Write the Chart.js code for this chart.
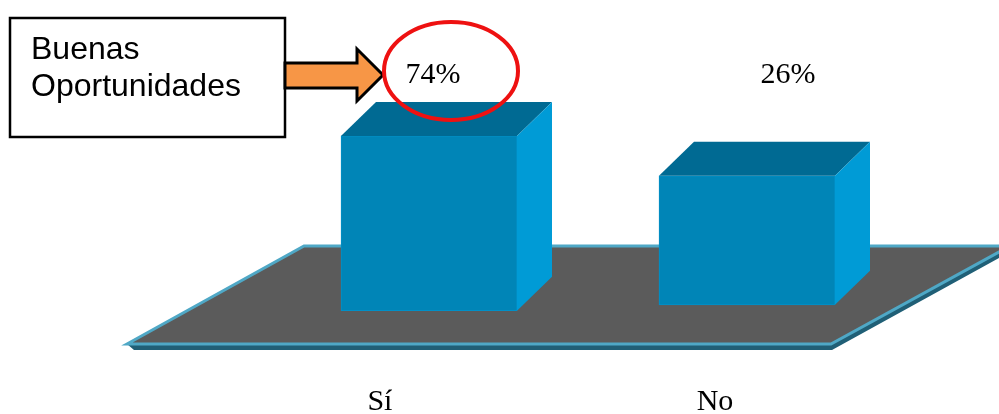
<!DOCTYPE html>
<html>
<head>
<meta charset="utf-8">
<style>
  html, body { margin: 0; padding: 0; background: #fff; }
  canvas { display: block; }
</style>
<script src="https://cdn.jsdelivr.net/npm/chart.js@4"></script>
</head>
<body>
<canvas id="chart" width="999" height="414"></canvas>
<script>
const categories = ['Sí', 'No'];
const percentValues = [74, 26];
// where each block stands on the platform, in axis units
const barFeet = [-136, -129];
const calloutLines = ['Buenas', 'Oportunidades'];

const SERIF = '"Liberation Serif", "Times New Roman", serif';
const SANS = '"Liberation Sans", Arial, sans-serif';

// platform under the blocks
const platform = {
  id: 'platform',
  beforeDatasetsDraw(chart) {
    const {ctx, chartArea: a} = chart;
    const front = a.bottom, back = a.bottom - 98;
    const fl = a.left - 143, fr = a.right - 75, bl = a.left + 34, br = a.right + 104;
    ctx.save();
    ctx.fillStyle = '#205f76';
    ctx.beginPath();
    ctx.moveTo(fl + 7, front + 6);
    ctx.lineTo(fr + 1, front + 6);
    ctx.lineTo(br, back + 6);
    ctx.lineTo(br, back);
    ctx.lineTo(fr, front);
    ctx.lineTo(fl, front);
    ctx.closePath();
    ctx.fill();
    ctx.beginPath();
    ctx.moveTo(fl, front);
    ctx.lineTo(bl, back);
    ctx.lineTo(br, back);
    ctx.lineTo(fr, front);
    ctx.closePath();
    ctx.fillStyle = '#5b5b5b';
    ctx.fill();
    ctx.strokeStyle = '#4fa8c6';
    ctx.lineWidth = 3;
    ctx.lineJoin = 'miter';
    ctx.stroke();
    ctx.restore();
  }
};

// top and side faces of each block, taken from the bar elements
const blockFaces = {
  id: 'blockFaces',
  afterDatasetsDraw(chart) {
    const {ctx} = chart;
    const dx = 35, dy = 34;
    ctx.save();
    chart.getDatasetMeta(0).data.forEach(bar => {
      const left = bar.x - bar.width / 2, right = bar.x + bar.width / 2;
      // floating bars can report y and base either way round
      const top = Math.min(bar.y, bar.base), foot = Math.max(bar.y, bar.base);
      ctx.fillStyle = '#006a93';
      ctx.beginPath();
      ctx.moveTo(left, top);
      ctx.lineTo(left + dx, top - dy);
      ctx.lineTo(right + dx, top - dy);
      ctx.lineTo(right, top);
      ctx.closePath();
      ctx.fill();
      ctx.fillStyle = '#009bd6';
      ctx.beginPath();
      ctx.moveTo(right, top);
      ctx.lineTo(right + dx, top - dy);
      ctx.lineTo(right + dx, foot - dy);
      ctx.lineTo(right, foot);
      ctx.closePath();
      ctx.fill();
    });
    ctx.restore();
  }
};

// percentages float in a row above the blocks
const valueRow = {
  id: 'valueRow',
  afterDatasetsDraw(chart) {
    const {ctx} = chart;
    const shift = [4, 41];
    ctx.save();
    ctx.font = '30px ' + SERIF;
    ctx.fillStyle = '#000';
    ctx.textAlign = 'center';
    ctx.textBaseline = 'alphabetic';
    chart.getDatasetMeta(0).data.forEach((bar, i) => {
      ctx.fillText(percentValues[i] + '%', bar.x + shift[i], 83);
    });
    ctx.restore();
  }
};

// text box, arrow and red ring pointing at the first percentage
const callout = {
  id: 'callout',
  afterDraw(chart) {
    const {ctx} = chart;
    ctx.save();
    ctx.fillStyle = '#fff';
    ctx.strokeStyle = '#000';
    ctx.lineWidth = 2.5;
    ctx.fillRect(10, 18, 275, 119);
    ctx.strokeRect(10, 18, 275, 119);
    ctx.fillStyle = '#000';
    ctx.font = '32px ' + SANS;
    calloutLines.forEach((t, i) => ctx.fillText(t, 31, 59 + i * 37));

    ctx.beginPath();
    ctx.moveTo(285, 63);
    ctx.lineTo(357, 63);
    ctx.lineTo(357, 49);
    ctx.lineTo(383, 75);
    ctx.lineTo(357, 101);
    ctx.lineTo(357, 88);
    ctx.lineTo(285, 88);
    ctx.closePath();
    ctx.fillStyle = '#f79646';
    ctx.fill();
    ctx.lineWidth = 3;
    ctx.stroke();

    ctx.beginPath();
    ctx.ellipse(451, 71, 67, 49, 0, 0, Math.PI * 2);
    ctx.strokeStyle = '#ee1111';
    ctx.lineWidth = 4;
    ctx.stroke();
    ctx.restore();
  }
};

new Chart(document.getElementById('chart'), {
  type: 'bar',
  data: {
    labels: categories,
    datasets: [{
      data: percentValues.map((v, i) => [barFeet[i], v]),
      backgroundColor: '#0085b7',
      borderColor: '#0090c8',
      borderWidth: 1,
      borderSkipped: false,
      barThickness: 176
    }]
  },
  options: {
    responsive: false,
    animation: false,
    layout: {padding: {left: 270, right: 93, top: 16, bottom: 0}},
    plugins: {legend: {display: false}, tooltip: {enabled: false}},
    scales: {
      x: {display: false, offset: true},
      // category names sit on their own axis, spaced wider than the blocks
      names: {
        type: 'linear',
        axis: 'x',
        position: 'bottom',
        offset: false,
        min: -0.328,
        max: 1.57,
        afterFit: scale => { scale.height = 70; },
        border: {display: false},
        grid: {display: false, drawTicks: false},
        ticks: {
          stepSize: 1,
          includeBounds: false,
          maxRotation: 0,
          padding: 40,
          color: '#000',
          font: {family: SERIF, size: 30},
          callback: v => categories[v]
        }
      },
      y: {display: false, min: -176, max: 218}
    }
  },
  plugins: [platform, blockFaces, valueRow, callout]
});
</script>
</body>
</html>
